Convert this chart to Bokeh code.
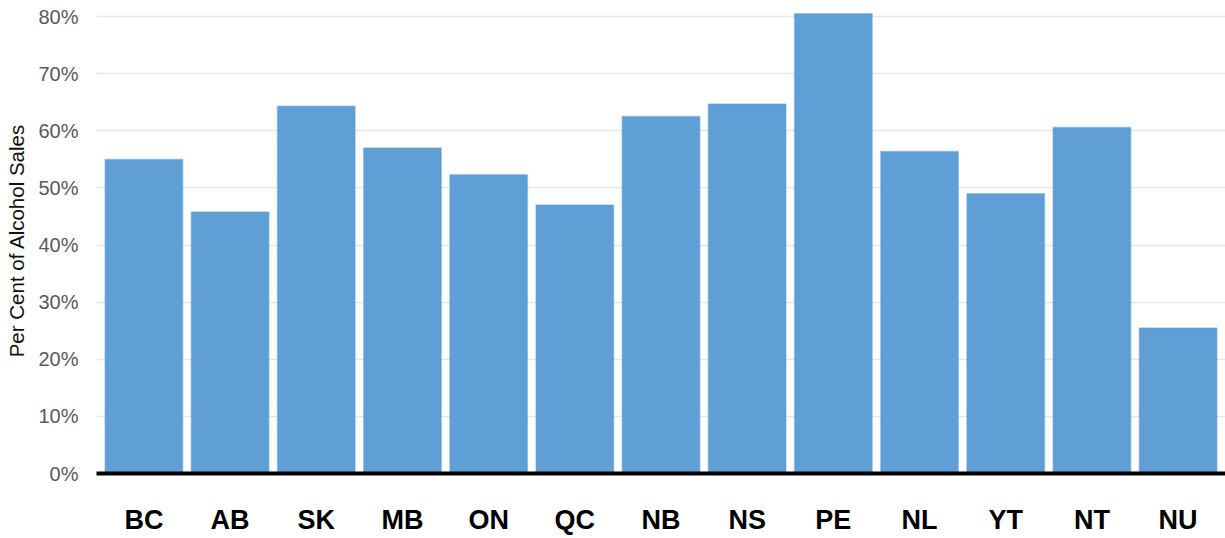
from bokeh.plotting import figure
from bokeh.models import FactorRange, Range1d, ColumnDataSource, FixedTicker
from bokeh.embed import file_html
from bokeh.resources import INLINE

# Share of alcohol sales by province / territory (per cent)
provinces = ["BC", "AB", "SK", "MB", "ON", "QC", "NB", "NS", "PE", "NL", "YT", "NT", "NU"]
share_pct = [55.0, 45.8, 64.3, 57.0, 52.3, 47.0, 62.5, 64.7, 80.5, 56.4, 49.0, 60.6, 25.5]
y_ticks = [0, 10, 20, 30, 40, 50, 60, 70, 80]

source = ColumnDataSource(data=dict(province=provinces, share=share_pct))

p = figure(
    width=1225, height=538,
    x_range=FactorRange(factors=provinces, range_padding=0.05, range_padding_units="absolute"),
    y_range=Range1d(0, 81.6),
    output_backend="svg", toolbar_location=None,
    min_border_left=96, min_border_right=0, min_border_top=7, min_border_bottom=65,
)
p.outline_line_color = None
p.background_fill_color = "white"
p.border_fill_color = "white"

p.vbar(x="province", top="share", width=0.9, source=source,
       fill_color="#5B9BD5", fill_alpha=0.97,
       line_color="#5B9BD5", line_alpha=0.45, line_width=1.5)

# y axis: percentage ticks, no axis line
p.yaxis.ticker = FixedTicker(ticks=y_ticks)
p.yaxis.major_label_overrides = {t: f"{t}%" for t in y_ticks}
p.yaxis.axis_line_color = None
p.yaxis.major_tick_line_color = None
p.yaxis.minor_tick_line_color = None
p.yaxis.major_label_text_font = "Liberation Sans"
p.yaxis.major_label_text_font_size = "20px"
p.yaxis.major_label_text_color = "#595959"
p.yaxis.major_label_standoff = 12
p.yaxis.axis_label = "Per Cent of Alcohol Sales"
p.yaxis.axis_label_text_font = "Liberation Sans"
p.yaxis.axis_label_text_font_size = "20.5px"
p.yaxis.axis_label_text_font_style = "normal"
p.yaxis.axis_label_text_color = "#111111"
p.yaxis.axis_label_standoff = 7

# x axis: heavy baseline with bold province codes
p.xaxis.axis_line_color = "black"
p.xaxis.axis_line_width = 4
p.xaxis.major_tick_line_color = None
p.xaxis.minor_tick_line_color = None
p.xaxis.major_label_text_font = "Liberation Sans"
p.xaxis.major_label_text_font_size = "27px"
p.xaxis.major_label_text_font_style = "bold"
p.xaxis.major_label_text_color = "black"
p.xaxis.major_label_standoff = 25

p.xgrid.grid_line_color = None
p.ygrid.grid_line_color = "#e6e6e6"
p.ygrid.grid_line_width = 1.5

open("out.html", "w").write(file_html(p, INLINE))
